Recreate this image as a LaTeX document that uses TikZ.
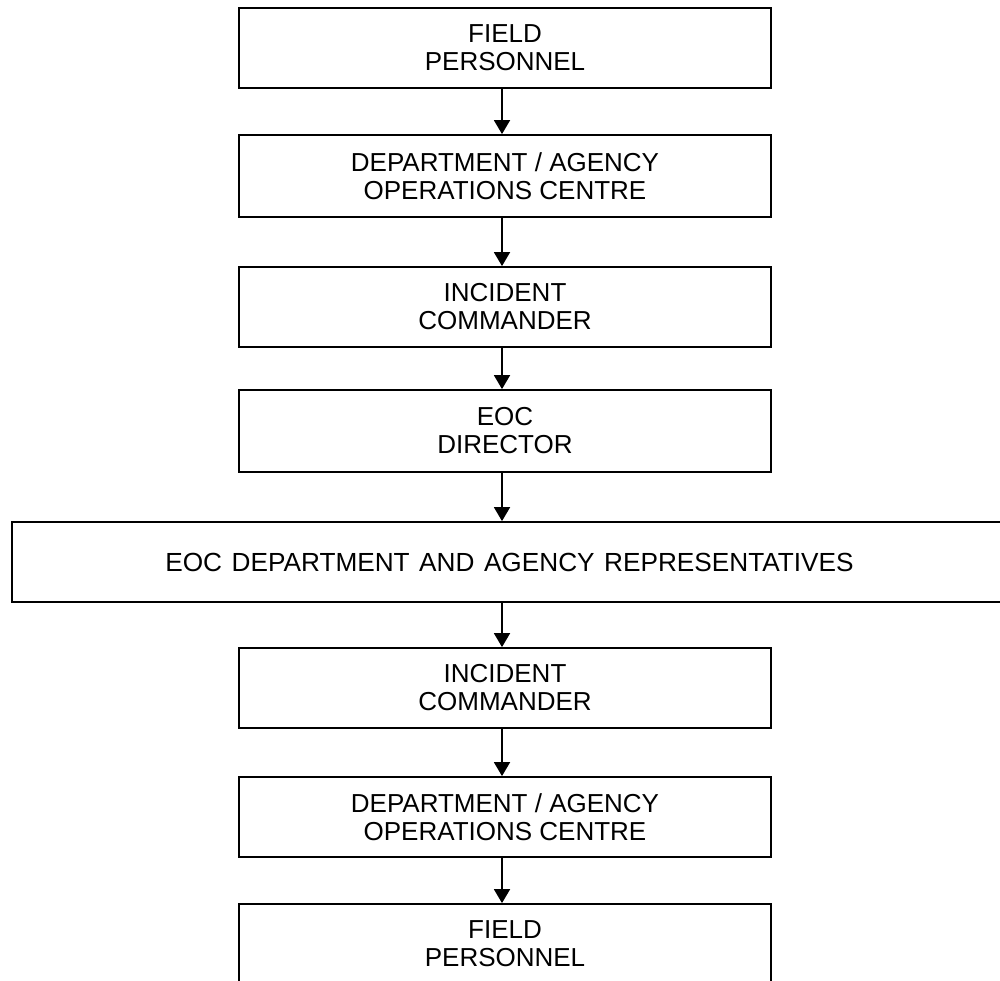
\documentclass[tikz,border=0pt]{standalone}
\usepackage{fontspec}
\setmainfont{Liberation Sans}
\usetikzlibrary{arrows.meta}
\begin{document}
\begin{tikzpicture}[x=1pt,y=-1pt,
  box/.style={draw, line width=1.8pt, align=center, inner sep=0pt,
    font=\fontsize{26}{28}\selectfont},
  std/.style={box, minimum width=532pt, minimum height=80pt},
  flow/.style={-{Triangle[length=14pt,width=16pt]}, line width=1.8pt}]
\useasboundingbox (0,0) rectangle (1000,981);
\clip (0,0) rectangle (1000,981);
\node[std] (b1) at (505,48) {FIELD\\PERSONNEL};
\node[std, minimum height=82pt] (b2) at (505,176) {DEPARTMENT / AGENCY\\OPERATIONS CENTRE};
\node[std] (b3) at (505,307) {INCIDENT\\COMMANDER};
\node[std, minimum height=82pt] (b4) at (505,431) {EOC\\DIRECTOR};
\node[box, font=\fontsize{26.2}{28}\selectfont, minimum width=995pt, minimum height=80pt] (b5) at (509.5,562) {EOC\hspace{9.5pt}DEPARTMENT\hspace{9.5pt}AND\hspace{9.5pt}AGENCY\hspace{9.5pt}REPRESENTATIVES};
\node[std] (b6) at (505,688) {INCIDENT\\COMMANDER};
\node[std] (b7) at (505,817) {DEPARTMENT / AGENCY\\OPERATIONS CENTRE};
\node[std] (b8) at (505,944) {FIELD\\PERSONNEL};
\draw[flow] ([xshift=-3pt]b1.south) -- ([xshift=-3pt]b2.north);
\draw[flow] ([xshift=-3pt]b2.south) -- ([xshift=-3pt]b3.north);
\draw[flow] ([xshift=-3pt]b3.south) -- ([xshift=-3pt]b4.north);
\draw[flow] ([xshift=-3pt]b4.south) -- ([xshift=-3pt]b4.south |- b5.north);
\draw[flow] ([xshift=-3pt]b6.north |- b5.south) -- ([xshift=-3pt]b6.north);
\draw[flow] ([xshift=-3pt]b6.south) -- ([xshift=-3pt]b7.north);
\draw[flow] ([xshift=-3pt]b7.south) -- ([xshift=-3pt]b8.north);
\end{tikzpicture}
\end{document}
